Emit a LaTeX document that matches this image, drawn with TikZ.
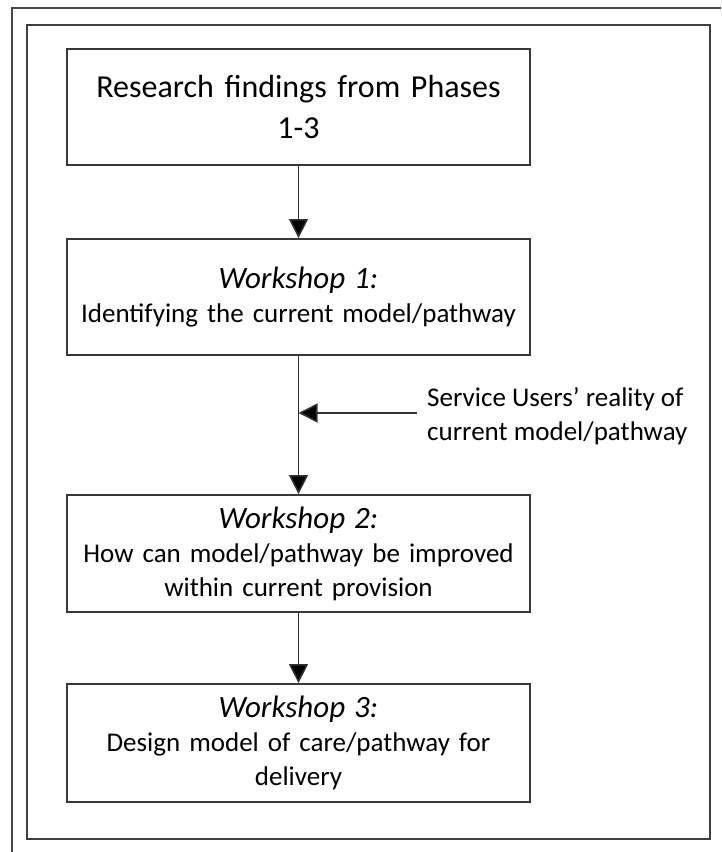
\documentclass[tikz,border=0pt]{standalone}
\usepackage{fontspec}
\setmainfont{Carlito}
\usetikzlibrary{arrows.meta}
\begin{document}
\begin{tikzpicture}[x=1pt,y=-1pt,
  box/.style={draw=black!78, line width=1.8pt, minimum width=463pt, align=center, inner sep=0pt, text width=455pt},
  conn/.style={draw=black!80, line width=1.5pt, -{Triangle[length=19pt,width=19pt,fill=black]}},
  ttl/.style={font=\fontsize{32}{41}\selectfont},
  body/.style={font=\fontsize{27}{34}\selectfont}]
\useasboundingbox (0,0) rectangle (721,852);
\draw[black!72, line width=1.2pt] (12,852) -- (12,8) -- (721,8);
\draw[black!75, line width=1.8pt] (27,25) rectangle (710,839);
\node[box, ttl, minimum height=116pt] (r) at (298.5,107) {Research findings from Phases\\1-3};
\node[box, body, minimum height=116pt] (w1) at (298.5,297) {{\fontsize{31}{34}\selectfont\itshape Workshop 1:}\\Identifying the current model/pathway};
\node[box, body, minimum height=117pt] (w2) at (298.5,553.5) {{\fontsize{31}{34}\selectfont\itshape Workshop 2:}\\How can model/pathway be improved\\within current provision};
\node[box, body, minimum height=118pt] (w3) at (298.5,743) {{\fontsize{31}{34}\selectfont\itshape Workshop 3:}\\Design model of care/pathway for\\delivery};
\node[body, align=left, anchor=west, inner sep=0pt] (s) at (427,416) {Service Users’ reality of\\current model/pathway};
\coordinate (sa) at (417,413);
\draw[conn] (r) -- (w1);
\draw[conn] (w1) -- (w2);
\draw[conn] (w2) -- (w3);
\draw[conn] (sa) -- (sa -| w1.south);
\end{tikzpicture}
\end{document}
